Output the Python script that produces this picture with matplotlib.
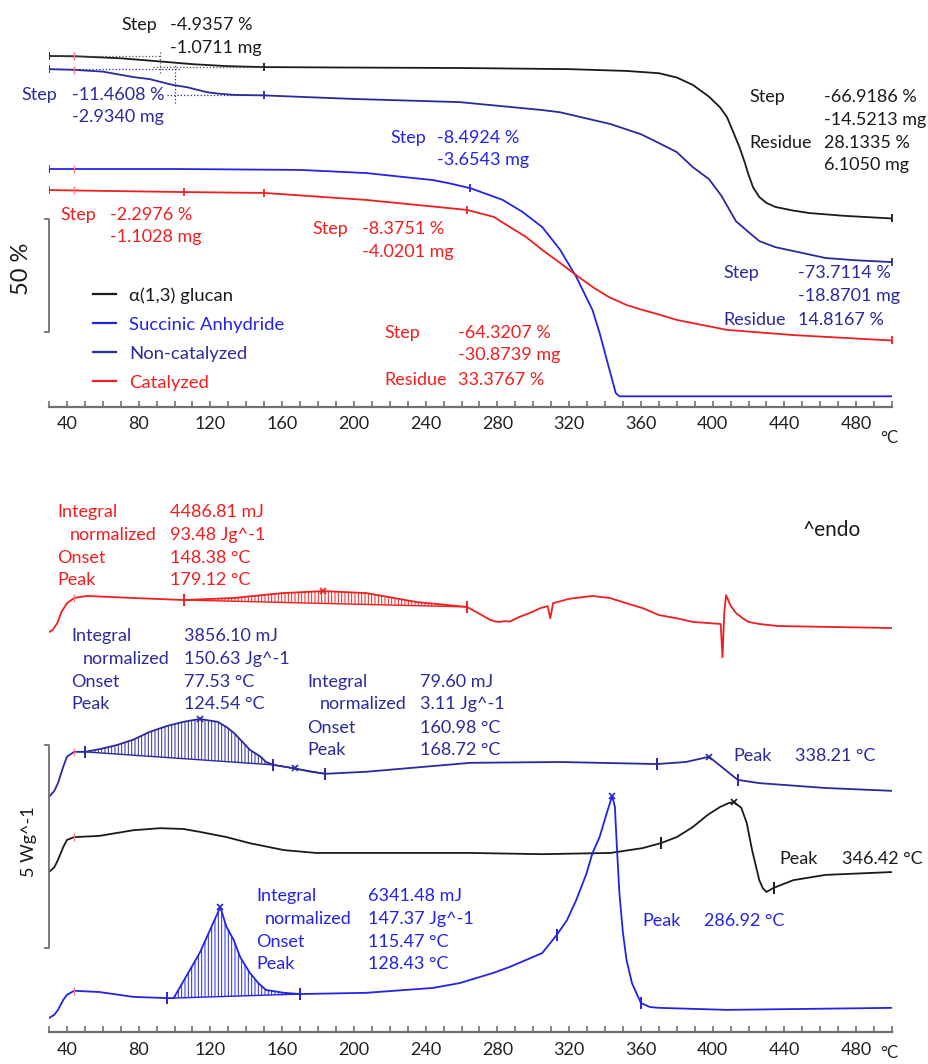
import numpy as np
import matplotlib
matplotlib.use("Agg")
import matplotlib.pyplot as plt
from matplotlib.lines import Line2D

plt.rcParams['font.family'] = ['Lato', 'DejaVu Sans']
plt.rcParams['hatch.linewidth'] = 0.7

W, H = 929, 1064
BLACK = '#1a1a1a'
BLUE = '#2323e6'
NAVY = '#2a2a9c'
RED = '#f01e1e'
PINK = '#ff7a7a'

# ---------------- TGA data (temperature degC, mass %) ----------------
tga_glucan_T = [30, 45, 70, 92, 110, 130, 150, 200, 260, 320, 352, 370, 380, 389, 398, 404, 408, 411, 415, 418,
                420, 422.5, 426, 430, 435, 445, 454, 473, 500]
tga_glucan_m = [100, 99.9, 99.0, 97.6, 96.4, 95.5, 95.1, 94.9, 94.7, 94.2, 93.4, 92.4, 90.5, 87.2, 82.0, 77.4, 73.0, 67.3, 59.6, 52.7,
                47.5, 42.0, 37.6, 35.0, 33.2, 31.6, 30.5, 29.3, 28.1]

tga_noncat_T = [30, 44, 60, 77, 86, 99, 107, 118, 124, 133, 149, 200, 259, 305, 315, 343, 360, 370, 380, 389,
                398, 405, 413, 420, 426, 435, 445, 463, 480, 500]
tga_noncat_m = [100, 99.7, 98.9, 96.5, 95.6, 93.0, 92.0, 89.8, 89.2, 88.6, 88.4, 86.8, 85.4, 81.9, 80.9, 75.7, 71.2, 67.3, 63.3, 56.6,
                51.3, 43.8, 32.7, 27.9, 23.9, 21.2, 19.5, 16.4, 15.4, 14.6]

tga_sa_T = [30, 100, 170, 207, 226, 244, 253, 265, 283, 294, 305, 315, 324, 333, 337, 341, 346, 348, 500]
tga_sa_m = [100, 100, 99.6, 98.2, 96.6, 95.1, 93.7, 91.5, 86.3, 81.0, 74.3, 64.2, 52.2, 37.6, 27.4, 15.5, 0.8, -0.6, -0.6]

tga_cat_T = [30, 44, 105, 150, 207, 263, 278, 287, 296, 305, 315, 326, 334, 342, 352, 361, 371, 380, 408, 445, 463, 500]
tga_cat_m = [100, 99.8, 99.1, 98.7, 95.6, 91.2, 88.1, 83.6, 79.2, 73.5, 67.7, 61.1, 56.6, 52.7, 49.1, 46.9, 44.7, 42.5, 38.1, 35.8, 35.0, 33.4]

# ---------------- DSC data (temperature degC, heat flow W/g rel. to start, endo up) ----------------
dsc_cat_T = [30, 32, 34.6, 37, 40, 44, 51, 77, 105, 133, 160, 183, 207, 235, 263, 270, 276, 279, 281, 284, 287, 292, 298, 304,
             308, 309.5, 311, 320, 333, 342.6, 352, 361, 370, 380, 389, 404.5, 405.5, 406.5, 407.5, 410, 413, 416.8, 420, 426,
             436, 500]
dsc_cat_q = [0, 0.05, 0.22, 0.50, 0.71, 0.84, 0.89, 0.84, 0.79, 0.84, 0.96, 1.01, 0.96, 0.74, 0.62, 0.45, 0.30, 0.26, 0.25, 0.27, 0.26, 0.37, 0.47, 0.59,
             0.64, 0.34, 0.71, 0.82, 0.89, 0.84, 0.71, 0.59, 0.42, 0.34, 0.25, 0.20, -0.62, 0.50, 0.91, 0.65, 0.47, 0.34, 0.25, 0.20,
             0.15, 0.10]

dsc_noncat_T = [30, 33, 35, 38, 40, 44, 50, 58.6, 68, 77, 86, 96, 105, 114, 124, 129, 133, 138, 142, 148, 151, 155, 166, 176,
                184, 207, 265, 315, 369, 385, 398, 405, 414, 426, 463, 500]
dsc_noncat_q = [0, 0.15, 0.34, 0.75, 0.99, 1.11, 1.11, 1.18, 1.28, 1.41, 1.60, 1.75, 1.85, 1.92, 1.85, 1.72, 1.58, 1.35, 1.16, 0.99, 0.86, 0.79, 0.71, 0.62,
                0.57, 0.62, 0.84, 0.86, 0.81, 0.86, 0.99, 0.74, 0.42, 0.34, 0.22, 0.15]

dsc_glucan_T = [30, 33, 35, 38, 40, 44, 58, 77, 92, 105, 114, 129, 142, 161, 179, 265, 305, 343, 361, 371, 380, 389, 397,
                404, 409, 412, 416, 419, 422, 426, 428, 430, 434, 445, 463, 500]
dsc_glucan_q = [0, 0.12, 0.30, 0.62, 0.79, 0.86, 0.89, 1.03, 1.08, 1.06, 0.99, 0.86, 0.71, 0.54, 0.47, 0.47, 0.44, 0.47, 0.59, 0.71, 0.86, 1.11, 1.40,
                1.60, 1.70, 1.72, 1.58, 1.21, 0.54, -0.20, -0.40, -0.49, -0.39, -0.20, -0.07, 0.0]

dsc_sa_T = [30, 33, 35, 38, 40, 44, 58, 77, 96, 99.5, 114, 125.5, 129, 133, 136.6, 142, 146.7, 151, 161, 170, 207, 244, 259,
            277.7, 287, 296, 305, 313, 318.8, 324, 329.6, 333, 337, 341, 344, 345.5, 346.5, 348, 350, 352, 355, 360, 365,
            370, 408, 500]
dsc_sa_q = [0, 0.08, 0.20, 0.45, 0.57, 0.67, 0.64, 0.52, 0.49, 0.49, 1.60, 2.73, 2.24, 1.92, 1.50, 1.11, 0.86, 0.69, 0.62, 0.59, 0.62, 0.74, 0.86,
            1.11, 1.26, 1.43, 1.60, 2.04, 2.41, 2.91, 3.55, 4.06, 4.46, 5.05, 5.47, 5.20, 4.31, 3.08, 2.09, 1.43, 0.86, 0.37, 0.27,
            0.25, 0.20, 0.25]

# integration windows (start, end) degC
cat_int = (105, 263)
noncat_int = [(50, 155), (155, 184)]
sa_int = (99.5, 170)

# evaluation marks
cat_ticks, cat_x = [105, 263], [183]
noncat_ticks, noncat_x = [50, 155, 184, 369, 414], [114, 167, 398]
glucan_ticks, glucan_x = [371, 434], [412]
sa_ticks, sa_x = [96, 170, 313, 360], [125.5, 344]

fig = plt.figure(figsize=(W / 100, H / 100), dpi=100)


def put(x, y, s, c, size=13, **kw):
    fig.text(x / W, 1 - y / H, s, color=c, fontsize=size, va='center', ha='left', **kw)


def style_axis(ax, ylab_y):
    ax.set_xlim(30, 500)
    for side in ['top', 'right', 'left']:
        ax.spines[side].set_visible(False)
    ax.spines['bottom'].set_color('#707070')
    ax.spines['bottom'].set_linewidth(1.6)
    ax.set_yticks([])
    ax.set_xticks(np.arange(40, 481, 40))
    ax.set_xticks(np.arange(30, 501, 10), minor=True)
    ax.tick_params(axis='x', which='both', direction='in', length=4, width=1.2, color='#707070',
                   labelsize=13, labelcolor='#222222', pad=7)
    put(880, ylab_y, '°C', '#222222', size=12)


# ---------------- top: TGA ----------------
ax1 = fig.add_axes([49 / W, 1 - 406.7 / H, 843 / W, 406.7 / H])
ax1.set_ylim(0, 180)
style_axis(ax1, 438)

tga = [
    (tga_glucan_T, tga_glucan_m, 55.2, BLACK),
    (tga_noncat_T, tga_noncat_m, 49.4, NAVY),
    (tga_sa_T, tga_sa_m, 5.2, BLUE),
    (tga_cat_T, tga_cat_m, -4.1, RED),
]
tga_marks = [[30, 150, 500], [30, 150, 500], [30, 265], [30, 105, 150, 263, 500]]
for (T, m, off, c), mk in zip(tga, tga_marks):
    y = np.array(m) + off
    ax1.plot(T, y, color=c, lw=1.3)
    ax1.plot(mk, np.interp(mk, T, y), ls='none', marker='|', ms=6, mew=1.3, color=c)
    ax1.plot([44], np.interp([44], T, y), ls='none', marker='|', ms=6, mew=1.0, color=PINK)

# dotted step constructions
ax1.plot([30, 92], [155.2, 155.2], ls=':', lw=0.9, color='#555555')
ax1.plot([92, 92], [147.6, 157.8], ls=':', lw=0.9, color='#555555')
ax1.plot([88, 150], [150.3, 150.3], ls=':', lw=0.9, color='#555555')
ax1.plot([30, 103], [149.4, 149.4], ls=':', lw=0.9, color=NAVY)
ax1.plot([100, 100], [134.4, 151.2], ls=':', lw=0.9, color=NAVY)
ax1.plot([96, 150], [137.9, 137.9], ls=':', lw=0.9, color=NAVY)

# 50 % scale bar
tga_bar = 50
ax1.plot([27.8, 30, 30, 27.8], [33 + tga_bar, 33 + tga_bar, 33, 33], color='#707070', lw=1.3, clip_on=False)
fig.text(22 / W, 1 - 269 / H, '50 %', rotation=90, fontsize=17, color=BLACK, va='center', ha='center')

handles = [Line2D([], [], color=c, lw=1.6) for c in [BLACK, BLUE, NAVY, RED]]
leg = fig.legend(handles, ['α(1,3) glucan', 'Succinic Anhydride', 'Non-catalyzed', 'Catalyzed'],
                 loc='upper left', bbox_to_anchor=(84 / W, 1 - 278 / H), frameon=False,
                 fontsize=13.3, handlelength=1.25, handletextpad=0.7, labelspacing=0.7,
                 borderpad=0, labelcolor='linecolor')

tga_text = [
    (121, 25, 'Step', BLACK), (170, 25, '-4.9357 %', BLACK), (170, 48, '-1.0711 mg', BLACK),
    (21, 95, 'Step', NAVY), (72, 95, '-11.4608 %', NAVY), (72, 117, '-2.9340 mg', NAVY),
    (390, 138, 'Step', BLUE), (437, 138, '-8.4924 %', BLUE), (437, 160, '-3.6543 mg', BLUE),
    (749, 97, 'Step', BLACK), (824, 97, '-66.9186 %', BLACK), (824, 120, '-14.5213 mg', BLACK),
    (749, 143, 'Residue', BLACK), (824, 143, '28.1335 %', BLACK), (824, 165, '6.1050 mg', BLACK),
    (60, 215, 'Step', RED), (110, 215, '-2.2976 %', RED), (110, 237, '-1.1028 mg', RED),
    (312, 229, 'Step', RED), (362, 229, '-8.3751 %', RED), (362, 252, '-4.0201 mg', RED),
    (384, 333, 'Step', RED), (458, 333, '-64.3207 %', RED), (458, 355, '-30.8739 mg', RED),
    (384, 380, 'Residue', RED), (458, 380, '33.3767 %', RED),
    (723, 273, 'Step', NAVY), (798, 273, '-73.7114 %', NAVY), (798, 296, '-18.8701 mg', NAVY),
    (723, 320, 'Residue', NAVY), (798, 320, '14.8167 %', NAVY),
]
for x, y, s, c in tga_text:
    put(x, y, s, c)

# ---------------- bottom: DSC ----------------
ax2 = fig.add_axes([49 / W, 1 - 1032 / H, 843 / W, 562 / H])
ax2.set_ylim(0, 562 / 40.6)
style_axis(ax2, 1053)

dsc = [
    (dsc_cat_T, dsc_cat_q, 9.85, RED, [cat_int], cat_ticks, cat_x),
    (dsc_noncat_T, dsc_noncat_q, 5.79, NAVY, noncat_int, noncat_ticks, noncat_x),
    (dsc_glucan_T, dsc_glucan_q, 3.94, BLACK, [], glucan_ticks, glucan_x),
    (dsc_sa_T, dsc_sa_q, 0.345, BLUE, [sa_int], sa_ticks, sa_x),
]
for T, q, off, c, wins, ticks, xs in dsc:
    y = np.array(q) + off
    ax2.plot(T, y, color=c, lw=1.3)
    for a, b in wins:
        ya, yb = np.interp([a, b], T, y)
        tt = np.array([t for t in T if a < t < b])
        xx = np.concatenate([[a], tt, [b]])
        base = ya + (yb - ya) * (xx - a) / (b - a)
        ax2.plot([a, b], [ya, yb], color=c, lw=1.0)
        ax2.fill_between(xx, base, np.interp(xx, T, y), facecolor='none', edgecolor=c,
                         hatch='|||||', linewidth=0)
    ax2.plot(ticks, np.interp(ticks, T, y), ls='none', marker='|', ms=8, mew=1.4, color=c)
    ax2.plot(xs, np.interp(xs, T, y), ls='none', marker='x', ms=5, mew=1.2, color=c)
    ax2.plot([44], np.interp([44], T, y), ls='none', marker='|', ms=6, mew=1.0, color=PINK)

# 5 W/g scale bar
dsc_bar = 5
ax2.plot([27.8, 30, 30, 27.8], [2.07 + dsc_bar, 2.07 + dsc_bar, 2.07, 2.07], color='#707070', lw=1.3, clip_on=False)
fig.text(29 / W, 1 - 842 / H, '5 Wg^-1', rotation=90, fontsize=13, color=BLACK, va='center', ha='center')
put(803, 530, '^endo', BLACK, size=15)

dsc_text = [
    (57, 512, 'Integral', RED), (170, 512, '4486.81 mJ', RED),
    (70, 535, 'normalized', RED), (170, 535, '93.48 Jg^-1', RED),
    (57, 558, 'Onset', RED), (170, 558, '148.38 °C', RED),
    (57, 580, 'Peak', RED), (170, 580, '179.12 °C', RED),
    (71, 636, 'Integral', NAVY), (184, 636, '3856.10 mJ', NAVY),
    (83, 659, 'normalized', NAVY), (184, 659, '150.63 Jg^-1', NAVY),
    (71, 682, 'Onset', NAVY), (184, 682, '77.53 °C', NAVY),
    (71, 704, 'Peak', NAVY), (184, 704, '124.54 °C', NAVY),
    (307, 682, 'Integral', NAVY), (420, 682, '79.60 mJ', NAVY),
    (320, 704, 'normalized', NAVY), (420, 704, '3.11 Jg^-1', NAVY),
    (307, 728, 'Onset', NAVY), (420, 728, '160.98 °C', NAVY),
    (307, 750, 'Peak', NAVY), (420, 750, '168.72 °C', NAVY),
    (733, 756, 'Peak', NAVY), (795, 756, '338.21 °C', NAVY),
    (779, 859, 'Peak', BLACK), (842, 859, '346.42 °C', BLACK),
    (256, 896, 'Integral', BLUE), (368, 896, '6341.48 mJ', BLUE),
    (265, 919, 'normalized', BLUE), (368, 919, '147.37 Jg^-1', BLUE),
    (256, 942, 'Onset', BLUE), (368, 942, '115.47 °C', BLUE),
    (256, 964, 'Peak', BLUE), (368, 964, '128.43 °C', BLUE),
    (642, 921, 'Peak', BLUE), (704, 921, '286.92 °C', BLUE),
]
for x, y, s, c in dsc_text:
    put(x, y, s, c)

fig.savefig('out.png', dpi=100)
